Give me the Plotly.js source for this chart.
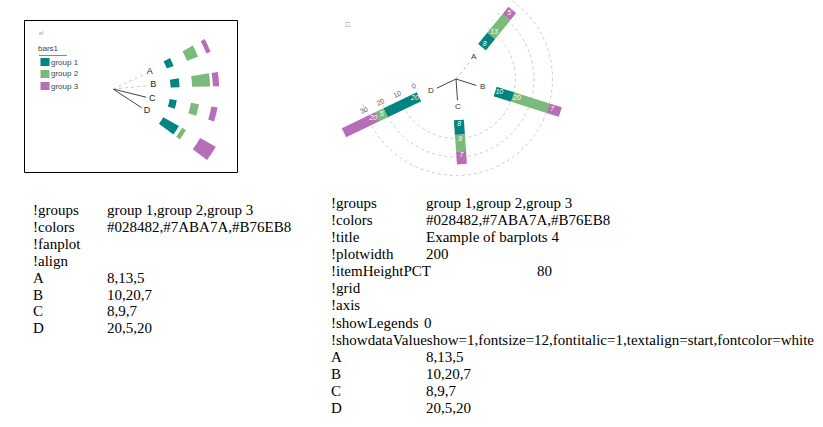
<!DOCTYPE html>
<html><head><meta charset="utf-8">
<script src="https://cdn.plot.ly/plotly-3.0.1.min.js"></script>
<style>
html,body{margin:0;padding:0;overflow:hidden;background:#fff;width:823px;height:427px}
#chart{position:absolute;left:0;top:-60px;width:823px;height:487px}
</style>
</head><body><div id="chart"></div>
<script>
// ---------- data ----------
const categories = ['A', 'B', 'C', 'D'];
const groupNames = ['group 1', 'group 2', 'group 3'];
const colors = ['#028482', '#7ABA7A', '#B76EB8'];
const group1 = [8, 10, 8, 20];
const group2 = [13, 20, 9, 5];
const group3 = [5, 7, 7, 20];
const radialTicks = [0, 10, 20, 30];
const legendTitle = 'bars1';
const chartTitle = 'Example of barplots 4';
const leftKeys = ['!groups', '!colors', '!fanplot', '!align', 'A', 'B', 'C', 'D'];
const rightKeys = ['!groups', '!colors', '!title', '!plotwidth', '!itemHeightPCT', '!grid', '!axis', '!showLegends',
  '!showdataValueshow=1,fontsize=12,fontitalic=1,textalign=start,fontcolor=white', 'A', 'B', 'C', 'D'];
const plotWidthVal = '200';
const itemHeightVal = '80';
const showLegendsVal = '0';

// ---------- geometry helpers (layout only) ----------
const W = 823, OFF = 60, H = 427 + OFF;
const fx = px => px / W;
const fy = py => 1 - (py + OFF) / H;
function sectorBBox(s) {
  const arc = s[1] - s[0];
  const a0 = ((s[0] % 360) + 360) % 360, a1 = a0 + arc, d = Math.PI / 180;
  const ax0 = Math.cos(a0 * d), ay0 = Math.sin(a0 * d), ax1 = Math.cos(a1 * d), ay1 = Math.sin(a1 * d);
  let x0, y0, x1, y1;
  if ((a0 <= 90 && a1 >= 90) || (a0 > 90 && a1 >= 450)) y1 = 1; else if (ay0 <= 0 && ay1 <= 0) y1 = 0; else y1 = Math.max(ay0, ay1);
  if ((a0 <= 180 && a1 >= 180) || (a0 > 180 && a1 >= 540)) x0 = -1; else if (ax0 >= 0 && ax1 >= 0) x0 = 0; else x0 = Math.min(ax0, ax1);
  if ((a0 <= 270 && a1 >= 270) || (a0 > 270 && a1 >= 630)) y0 = -1; else if (ay0 >= 0 && ay1 >= 0) y0 = 0; else y0 = Math.min(ay0, ay1);
  if ((a0 <= 0 && a1 >= 0) || (a0 > 0 && a1 >= 360)) x1 = 1; else if (ax0 <= 0 && ax1 <= 0) x1 = 0; else x1 = Math.max(ax0, ax1);
  return [x0, y0, x1, y1];
}
function polarDomain(cx, cy, R, sector) {
  const b = sectorBBox(sector);
  const left = cx + b[0] * R, right = cx + b[2] * R;
  const top = cy - b[3] * R, bottom = cy - b[1] * R;
  return { x: [fx(left), fx(right)], y: [fy(bottom), fy(top)] };
}

const series = [group1, group2, group3];

// main radial plot
const MAIN = { cx: 456, cy: 79, hole: 41, scale: 1.85, rmax: 46, sector: [-165, 60], step: 68.4, rot: 50.8, barPx: 10 };
const R1 = MAIN.hole + MAIN.scale * MAIN.rmax;
// thumbnail fan plot
const FAN = { cx: 113, cy: 89, scale: 0.9, rmax: 135, sector: [-45, 35], step: 19.3, rot: 24.7, bases: [64, 88, 111] };
const R2 = FAN.scale * FAN.rmax;

const traces = [];
// stacked bases computed from the data
const bases = series.map((s, g) => categories.map((c, i) => series.slice(0, g).reduce((a, t) => a + t[i], 0)));

// main stacked bars: straight radial bars of constant width
series.forEach((s, g) => {
  const r = [], th = [];
  categories.forEach((c, i) => { r.push(bases[g][i], bases[g][i] + s[i], null); th.push(c, c, c); });
  traces.push({
    type: 'scatterpolar', subplot: 'polar', mode: 'lines', r: r, theta: th, name: groupNames[g],
    line: { color: colors[g], width: MAIN.barPx }, connectgaps: false, showlegend: false, hoverinfo: 'skip'
  });
});
// value labels at start of each segment
series.forEach((s, g) => {
  traces.push({
    type: 'scatterpolar', subplot: 'polar', mode: 'text', r: bases[g].map(b => b + 2.4), theta: categories,
    text: s.map(v => '<i>' + v + '</i>'), textfont: { size: 7, color: '#ffffff', family: 'Arial, Liberation Sans, sans-serif' },
    showlegend: false, hoverinfo: 'skip'
  });
});
// main tree inside hole
categories.forEach((c, i) => {
  traces.push({
    type: 'scatterpolar', subplot: 'polar3', mode: 'lines', r: [0, 0.52], theta: [c, c],
    line: { color: i === 0 ? '#bbbbbb' : '#444444', width: 1, dash: i === 0 ? 'dot' : 'solid' }, showlegend: false, hoverinfo: 'skip'
  });
});
traces.push({
  type: 'scatterpolar', subplot: 'polar3', mode: 'text', r: categories.map(() => 0.68), theta: categories, text: categories,
  textfont: { size: 8, color: '#333', family: 'Arial, Liberation Sans, sans-serif' }, showlegend: false, hoverinfo: 'skip'
});
// thumbnail fan bars
series.forEach((s, g) => {
  traces.push({
    type: 'barpolar', subplot: 'polar2', r: s, theta: categories, base: categories.map(() => FAN.bases[g]), name: groupNames[g],
    marker: { color: colors[g], line: { width: 0 } }, width: 0.4, showlegend: false, hoverinfo: 'r+theta'
  });
});
categories.forEach((c, i) => {
  traces.push({
    type: 'scatterpolar', subplot: 'polar2', mode: 'lines', r: [0, 38], theta: [c, c],
    line: { color: i < 2 ? '#c8c8c8' : '#444444', width: 1, dash: i < 2 ? 'dot' : 'solid' }, showlegend: false, hoverinfo: 'skip'
  });
});
traces.push({
  type: 'scatterpolar', subplot: 'polar2', mode: 'text', r: categories.map(() => 45), theta: categories, text: categories,
  textfont: { size: 9, color: '#222', family: 'Arial, Liberation Sans, sans-serif' }, showlegend: false, hoverinfo: 'skip'
});

// ---------- annotations & shapes ----------
const annotations = [];
const shapes = [];
const serif = 'Liberation Serif, Times New Roman, serif';
function txt(x, y, text, opts) {
  annotations.push(Object.assign({
    x: fx(x), y: fy(y), xref: 'paper', yref: 'paper', xanchor: 'left', yanchor: 'middle', showarrow: false,
    text: text, font: { family: serif, size: 15, color: '#000' }, borderpad: 0, borderwidth: 0
  }, opts || {}));
}
const rowVals = categories.map((c, i) => series.map(s => s[i]).join(','));
const leftVals = [groupNames.join(','), colors.join(','), '', ''].concat(rowVals);
leftKeys.forEach((k, i) => {
  const y = 210 + i * 16.9;
  txt(33, y, k);
  if (leftVals[i]) txt(107, y, leftVals[i]);
});
const rightVals = [groupNames.join(','), colors.join(','), chartTitle, plotWidthVal, itemHeightVal, '', '', showLegendsVal, ''].concat(rowVals);
const rightValX = { 4: 537, 7: 424 };
rightKeys.forEach((k, i) => {
  const y = 203 + i * 17.08;
  txt(331, y, k);
  if (rightVals[i]) txt(rightValX[i] || 426, y, rightVals[i]);
});

// thumbnail frame
shapes.push({ type: 'rect', xref: 'paper', yref: 'paper', x0: fx(24.5), x1: fx(237.5), y0: fy(172.5), y1: fy(20.5), line: { color: '#000', width: 1 } });
// thumbnail legend
const sans = 'Arial, Liberation Sans, sans-serif';
txt(38, 49, legendTitle, { font: { family: sans, size: 8, color: '#444' } });
shapes.push({ type: 'line', xref: 'paper', yref: 'paper', x0: fx(39), x1: fx(67), y0: fy(55.5), y1: fy(55.5), line: { color: '#888', width: 1 } });
groupNames.forEach((n, g) => {
  const yc = 62 + g * 12;
  shapes.push({ type: 'rect', xref: 'paper', yref: 'paper', x0: fx(40.5), x1: fx(49.5), y0: fy(yc + 4), y1: fy(yc - 4), line: { width: 0 }, fillcolor: colors[g] });
  txt(51, yc, n, { font: { family: sans, size: 8, color: '#444' } });
});
// tiny toolbar glyphs
txt(39, 33, 'ef', { font: { family: sans, size: 5, color: '#999' } });
txt(348, 24, '[:]', { font: { family: sans, size: 6, color: '#999' }, textangle: 90, xanchor: 'center' });

const layout = {
  width: W, height: H, margin: { l: 0, r: 0, t: 0, b: 0 }, paper_bgcolor: '#fff', plot_bgcolor: '#fff',
  showlegend: false,
  polar: {
    domain: polarDomain(MAIN.cx, MAIN.cy, R1, MAIN.sector), sector: MAIN.sector, hole: MAIN.hole / R1,
    bgcolor: 'rgba(0,0,0,0)',
    radialaxis: {
      range: [0, MAIN.rmax], tickvals: radialTicks, showline: false, ticks: 'outside', ticklen: 8, tickcolor: 'rgba(0,0,0,0)',
      angle: 206, side: 'clockwise',
      gridcolor: '#cccccc', griddash: 'dot', gridwidth: 1, tickfont: { size: 7, color: '#666', family: sans }
    },
    angularaxis: {
      type: 'category', categoryarray: categories, period: 360 / MAIN.step, rotation: MAIN.rot, direction: 'clockwise',
      showgrid: false, showline: false, showticklabels: false, ticks: ''
    }
  },
  polar2: {
    domain: polarDomain(FAN.cx, FAN.cy, R2, FAN.sector), sector: FAN.sector, bgcolor: 'rgba(0,0,0,0)', barmode: 'overlay',
    radialaxis: { range: [0, FAN.rmax], visible: false },
    angularaxis: { type: 'category', categoryarray: categories, period: 360 / FAN.step, rotation: FAN.rot, direction: 'clockwise', visible: false }
  },
  polar3: {
    domain: polarDomain(MAIN.cx, MAIN.cy, MAIN.hole, [0, 360]), bgcolor: 'rgba(0,0,0,0)',
    radialaxis: { range: [0, 1], visible: false },
    angularaxis: { type: 'category', categoryarray: categories, period: 360 / MAIN.step, rotation: MAIN.rot, direction: 'clockwise', visible: false }
  },
  annotations: annotations, shapes: shapes
};
Plotly.newPlot('chart', traces, layout, { displayModeBar: false, staticPlot: true });
</script>
</body></html>
